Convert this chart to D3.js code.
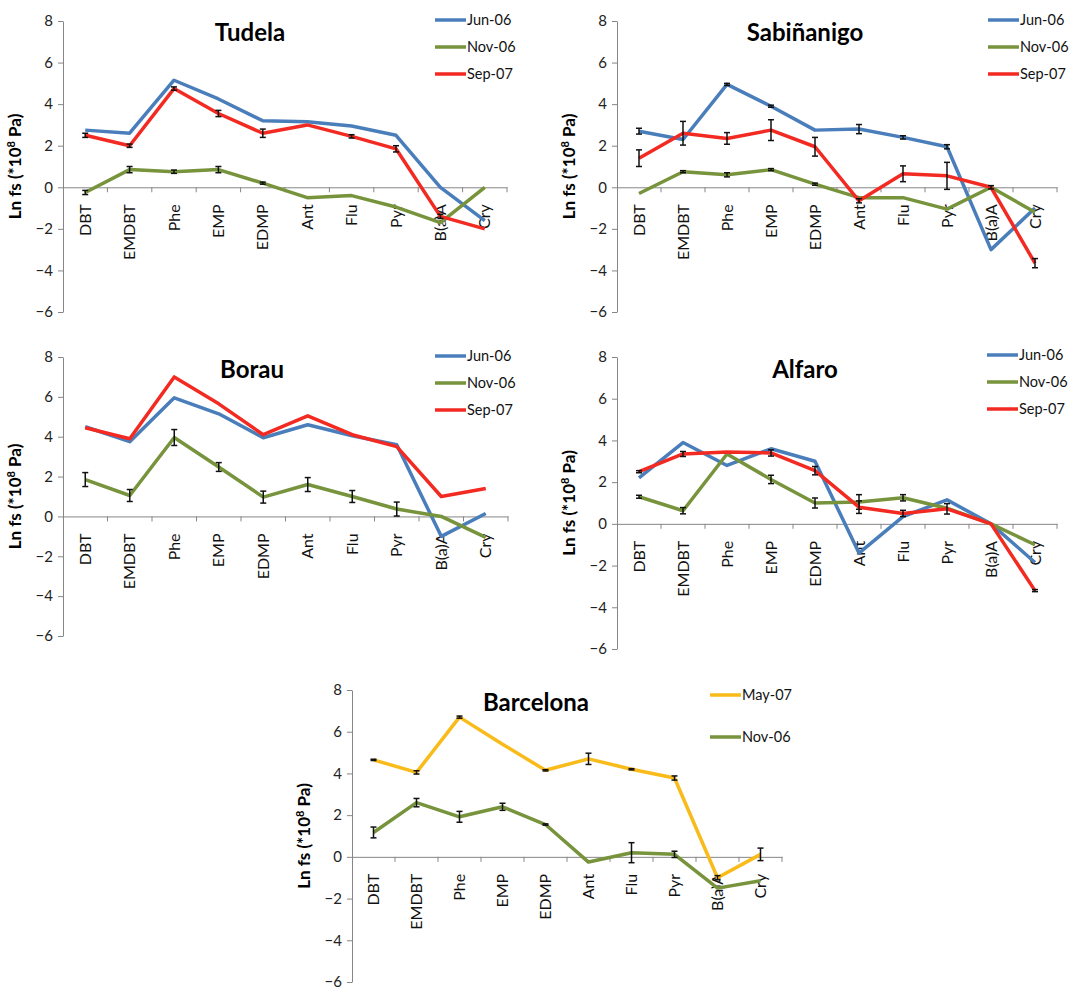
<!DOCTYPE html>
<html>
<head>
<meta charset="utf-8">
<script src="https://cdn.jsdelivr.net/npm/d3@7"></script>
<style>
  body { margin: 0; background: #fff; }
  svg { display: block; font-family: Lato, "Open Sans", sans-serif; }
  .axis path, .axis line { stroke: #868686; }
</style>
</head>
<body>
<svg width="1078" height="989"></svg>
<script>
// compounds on the x axis
var categories = ["DBT", "EMDBT", "Phe", "EMP", "EDMP", "Ant", "Flu", "Pyr", "B(a)A", "Cry"]
var yTicks = [-6, -4, -2, 0, 2, 4, 6, 8]

// Tudela
var tudelaJun06 = [2.75, 2.6, 5.15, 4.25, 3.2, 3.15, 2.95, 2.5, 0.0, -1.6]
var tudelaJun06Err = [0, 0, 0, 0, 0, 0, 0, 0, 0, 0]
var tudelaNov06 = [-0.25, 0.85, 0.75, 0.85, 0.2, -0.5, -0.4, -0.95, -1.7, 0.0]
var tudelaNov06Err = [0.1, 0.15, 0.08, 0.15, 0.05, 0, 0, 0, 0, 0]
var tudelaSep07 = [2.5, 2.0, 4.75, 3.55, 2.6, 3.0, 2.45, 1.85, -1.4, -2.0]
var tudelaSep07Err = [0.1, 0.08, 0.08, 0.15, 0.2, 0, 0.08, 0.15, 0.1, 0]

// Sabiñanigo
var sabJun06 = [2.7, 2.3, 4.95, 3.9, 2.75, 2.8, 2.4, 1.95, -3.0, -1.0]
var sabJun06Err = [0.14, 0, 0.05, 0.05, 0, 0.22, 0.08, 0.1, 0, 0]
var sabNov06 = [-0.3, 0.75, 0.6, 0.85, 0.15, -0.5, -0.5, -1.05, 0.0, -1.2]
var sabNov06Err = [0, 0.05, 0.1, 0.05, 0.05, 0, 0, 0, 0, 0]
var sabSep07 = [1.4, 2.6, 2.35, 2.75, 1.95, -0.65, 0.65, 0.55, 0.0, -3.65]
var sabSep07Err = [0.4, 0.57, 0.28, 0.5, 0.45, 0.1, 0.38, 0.65, 0.08, 0.22]

// Borau
var borauJun06 = [4.5, 3.75, 5.95, 5.15, 3.95, 4.6, 4.05, 3.6, -1.0, 0.15]
var borauJun06Err = [0, 0, 0, 0, 0, 0, 0, 0, 0, 0]
var borauNov06 = [1.85, 1.05, 3.96, 2.48, 0.97, 1.6, 1.0, 0.37, 0.0, -1.05]
var borauNov06Err = [0.35, 0.3, 0.4, 0.22, 0.3, 0.35, 0.3, 0.35, 0, 0]
var borauSep07 = [4.45, 3.9, 7.0, 5.65, 4.1, 5.05, 4.1, 3.5, 1.0, 1.4]
var borauSep07Err = [0, 0, 0, 0, 0, 0, 0, 0, 0, 0]

// Alfaro
var alfaroJun06 = [2.2, 3.9, 2.8, 3.6, 3.0, -1.4, 0.35, 1.15, 0.0, -1.85]
var alfaroJun06Err = [0, 0, 0, 0, 0, 0, 0, 0, 0, 0]
var alfaroNov06 = [1.3, 0.63, 3.35, 2.13, 1.0, 1.05, 1.25, 0.75, 0.0, -1.0]
var alfaroNov06Err = [0.07, 0.15, 0, 0.2, 0.24, 0.35, 0.15, 0, 0, 0]
var alfaroSep07 = [2.5, 3.35, 3.45, 3.4, 2.55, 0.8, 0.5, 0.72, 0.0, -3.2]
var alfaroSep07Err = [0.05, 0.12, 0, 0.15, 0.2, 0.3, 0.15, 0.25, 0, 0.05]

// Barcelona
var bcnMay07 = [4.65, 4.05, 6.7, 5.4, 4.15, 4.7, 4.2, 3.78, -1.0, 0.12]
var bcnMay07Err = [0.03, 0.08, 0.05, 0, 0.03, 0.27, 0.03, 0.1, 0.1, 0.3]
var bcnNov06 = [1.17, 2.6, 1.92, 2.4, 1.55, -0.25, 0.2, 0.12, -1.5, -1.15]
var bcnNov06Err = [0.26, 0.2, 0.26, 0.17, 0.03, 0, 0.48, 0.15, 0, 0]

var colors = { "Jun-06": "#4a7ebb", "Nov-06": "#77933c", "Sep-07": "#f22a22", "May-07": "#f9bb1a" }

var panels = [
    { title: "Tudela", x0: 63, x1: 507, yTop: 21, yBot: 312, tx: 250, ty: 41, lx: 435, ly: [20, 47, 74],
      series: [["Jun-06", tudelaJun06, tudelaJun06Err], ["Nov-06", tudelaNov06, tudelaNov06Err], ["Sep-07", tudelaSep07, tudelaSep07Err]] },
    { title: "Sabiñanigo", x0: 617, x1: 1057, yTop: 21, yBot: 312, tx: 805, ty: 41, lx: 988, ly: [20, 47, 74],
      series: [["Jun-06", sabJun06, sabJun06Err], ["Nov-06", sabNov06, sabNov06Err], ["Sep-07", sabSep07, sabSep07Err]] },
    { title: "Borau", x0: 63, x1: 508, yTop: 357, yBot: 636, tx: 252, ty: 378, lx: 435, ly: [356, 383, 410],
      series: [["Jun-06", borauJun06, borauJun06Err], ["Nov-06", borauNov06, borauNov06Err], ["Sep-07", borauSep07, borauSep07Err]] },
    { title: "Alfaro", x0: 617, x1: 1057, yTop: 357, yBot: 649, tx: 805, ty: 378, lx: 987, ly: [355, 382, 409],
      series: [["Jun-06", alfaroJun06, alfaroJun06Err], ["Nov-06", alfaroNov06, alfaroNov06Err], ["Sep-07", alfaroSep07, alfaroSep07Err]] },
    { title: "Barcelona", x0: 352, x1: 782, yTop: 690, yBot: 982, tx: 536, ty: 711, lx: 710, ly: [695, 737],
      series: [["May-07", bcnMay07, bcnMay07Err], ["Nov-06", bcnNov06, bcnNov06Err]] }
]

var svg = d3.select("svg")

panels.forEach(function (p) {
    var g = svg.append("g")

    var x = d3.scaleBand().domain(categories).range([p.x0, p.x1])
    var y = d3.scaleLinear().domain([-6, 8]).range([p.yBot, p.yTop])
    var bw = x.bandwidth()

    // y axis
    var yAxis = g.append("g")
        .attr("class", "axis")
        .attr("transform", "translate(" + p.x0 + ",0)")
        .call(d3.axisLeft(y).tickValues(yTicks).tickSizeInner(5).tickSizeOuter(0).tickFormat(d3.format("d")))
    yAxis.selectAll("text")
        .attr("font-size", 15)
        .attr("fill", "#222")
        .attr("x", -10)
        .attr("font-family", "Lato, 'Open Sans', sans-serif")

    // x axis at zero
    var xAxis = g.append("g")
        .attr("class", "axis")
        .attr("transform", "translate(0," + y(0) + ")")
        .call(d3.axisBottom(x).tickSize(0).tickSizeOuter(0))
    xAxis.selectAll("text")
        .attr("transform", "rotate(-90)")
        .attr("text-anchor", "end")
        .attr("x", -17)
        .attr("y", 0)
        .attr("dy", "0.35em")
        .attr("font-size", 16)
        .attr("font-family", "Lato, 'Open Sans', sans-serif")
        .attr("fill", "#111")
    var edges = categories.map(function (c) { return x(c) }).concat([p.x1])
    xAxis.selectAll(".edge")
        .data(edges.slice(1))
        .enter().append("line")
        .attr("class", "edge")
        .attr("x1", function (d) { return d }).attr("x2", function (d) { return d })
        .attr("y1", 0).attr("y2", 5)
        .attr("stroke", "#868686")

    // y label
    var lab = g.append("text")
        .attr("transform", "translate(" + (p.x0 - 42) + "," + ((p.yTop + p.yBot) / 2) + ") rotate(-90)")
        .attr("text-anchor", "middle")
        .attr("font-size", 17)
        .attr("font-weight", "bold")
    lab.append("tspan").text("Ln fs (*10")
    lab.append("tspan").attr("font-size", 11).attr("dy", -6).text("8")
    lab.append("tspan").attr("dy", 6).text(" Pa)")

    // title
    g.append("text")
        .attr("x", p.tx).attr("y", p.ty)
        .attr("text-anchor", "middle")
        .attr("font-size", 24)
        .attr("font-weight", "bold")
        .text(p.title)

    var line = d3.line()
        .x(function (d, i) { return x(categories[i]) + bw / 2 })
        .y(function (d) { return y(d) })

    p.series.forEach(function (s) {
        var name = s[0], vals = s[1], errs = s[2]
        g.append("path")
            .datum(vals)
            .attr("d", line)
            .attr("fill", "none")
            .attr("stroke", colors[name])
            .attr("stroke-width", 3.5)
            .attr("stroke-linejoin", "round")

        var eb = g.append("g").selectAll("g")
            .data(vals.map(function (v, i) { return { c: categories[i], v: v, e: errs[i] } })
                .filter(function (d) { return d.e > 0 }))
            .enter().append("g")
            .attr("stroke", "#111")
            .attr("stroke-width", 1.5)
        eb.append("line")
            .attr("x1", function (d) { return x(d.c) + bw / 2 })
            .attr("x2", function (d) { return x(d.c) + bw / 2 })
            .attr("y1", function (d) { return y(d.v - d.e) })
            .attr("y2", function (d) { return y(d.v + d.e) })
        eb.append("line")
            .attr("x1", function (d) { return x(d.c) + bw / 2 - 3 })
            .attr("x2", function (d) { return x(d.c) + bw / 2 + 3 })
            .attr("y1", function (d) { return y(d.v - d.e) })
            .attr("y2", function (d) { return y(d.v - d.e) })
        eb.append("line")
            .attr("x1", function (d) { return x(d.c) + bw / 2 - 3 })
            .attr("x2", function (d) { return x(d.c) + bw / 2 + 3 })
            .attr("y1", function (d) { return y(d.v + d.e) })
            .attr("y2", function (d) { return y(d.v + d.e) })
    })

    // legend
    var leg = g.selectAll(".leg")
        .data(p.series)
        .enter().append("g")
        .attr("class", "leg")
        .attr("transform", function (d, i) { return "translate(" + p.lx + "," + p.ly[i] + ")" })
    leg.append("line")
        .attr("x1", 0).attr("x2", 31)
        .attr("stroke", function (d) { return colors[d[0]] })
        .attr("stroke-width", 3.5)
    leg.append("text")
        .attr("x", 32)
        .attr("dy", "0.35em")
        .attr("font-size", 14.5)
        .attr("fill", "#111")
        .text(function (d) { return d[0] })
})
</script>
</body>
</html>
